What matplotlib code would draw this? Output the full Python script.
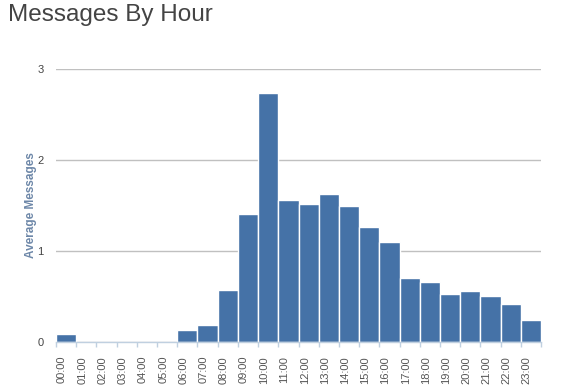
import numpy as np
import matplotlib.pyplot as plt
import matplotlib.transforms as mtrans

plt.rcParams['font.family'] = ['Liberation Sans', 'DejaVu Sans']

# data
hours = ["%02d:00" % h for h in range(24)]
avg_messages = [0.09, 0, 0, 0, 0, 0, 0.13, 0.19, 0.57, 1.41, 2.74, 1.56,
                1.52, 1.63, 1.50, 1.26, 1.10, 0.70, 0.66, 0.53, 0.56, 0.51,
                0.42, 0.24]
y_ticks = [0, 1, 2, 3]

fig = plt.figure(figsize=(5.73, 3.92), dpi=100)
ax = fig.add_axes([56 / 573, 50 / 392, 485 / 573, 273 / 392])

x = np.arange(len(hours))
ax.bar(x, avg_messages, width=1.0, color="#4572A7", edgecolor="white",
       linewidth=1.0, zorder=3)

ax.set_xlim(-0.5, len(hours) - 0.5)
ax.set_ylim(0, 3)
ax.set_yticks(y_ticks)
ax.yaxis.grid(True, color="#C0C0C0", linewidth=1.0, zorder=1)
ax.set_axisbelow(True)

for s in ["top", "right", "left"]:
    ax.spines[s].set_visible(False)
ax.spines["bottom"].set_color("#C0D0E0")
ax.spines["bottom"].set_linewidth(1.0)
ax.spines["bottom"].set_zorder(4)

# labels centred on bars, tick marks between bars
ax.set_xticks(x)
ax.set_xticklabels(hours, rotation=90, fontsize=8, color="#555555")
ax.set_xticks(np.arange(len(hours) + 1) - 0.5, minor=True)
ax.tick_params(axis="x", which="major", length=0, pad=10)
ax.tick_params(axis="x", which="minor", length=3.7, color="#C0D0E0", width=1)
shift = mtrans.ScaledTranslation(-4 / 100, 0, fig.dpi_scale_trans)
for lab in ax.get_xticklabels():
    lab.set_transform(lab.get_transform() + shift)

ax.tick_params(axis="y", length=0, pad=9, labelsize=8, labelcolor="#444444")

ax.set_ylabel("Average Messages", fontsize=8.5, fontweight="bold",
              color="#6D87A8")
ax.yaxis.set_label_coords(-0.04, 0.5)

fig.text(8 / 573, 1 - 4 / 392, "Messages By Hour", fontsize=17.5,
         color="#444444", ha="left", va="top")

fig.savefig("out.png", dpi=100)
